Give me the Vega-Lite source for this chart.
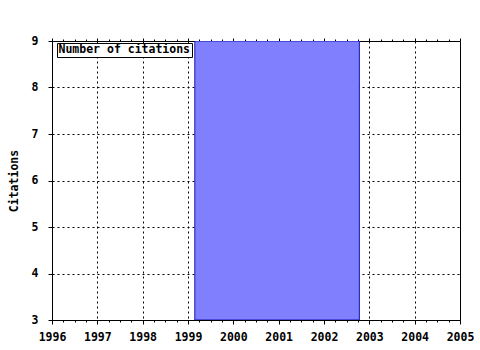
{
  "$schema": "https://vega.github.io/schema/vega-lite/v6.json",
  "width": 408,
  "height": 279,
  "autosize": {"type": "none"},
  "padding": {"left": 52, "top": 41, "right": 20, "bottom": 30},
  "background": "white",
  "config": {
    "view": {"stroke": "black", "strokeWidth": 1},
    "font": "DejaVu Sans Mono",
    "axis": {
      "labelFont": "DejaVu Sans Mono",
      "labelFontWeight": "bold",
      "labelFontSize": 11.5,
      "labelColor": "black",
      "titleFont": "DejaVu Sans Mono",
      "titleFontWeight": "bold",
      "titleFontSize": 11.5,
      "titleColor": "black",
      "domainColor": "black",
      "tickColor": "black",
      "gridColor": "black",
      "gridDash": [2, 3],
      "gridWidth": 1
    }
  },
  "data": {
    "values": [
      {"start": 1999.15, "end": 2002.78, "citations": 9, "series": "Number of citations"}
    ]
  },
  "layer": [
    {
      "mark": {"type": "bar", "clip": true, "stroke": "#1414b4", "strokeWidth": 1, "opacity": 1},
      "encoding": {
        "x": {
          "field": "start",
          "type": "quantitative",
          "scale": {"domain": [1996, 2005], "nice": false, "zero": false},
          "axis": {
            "orient": "bottom",
            "title": null,
            "values": [1996, 1996.25, 1996.5, 1996.75, 1997, 1997.25, 1997.5, 1997.75, 1998, 1998.25, 1998.5, 1998.75, 1999, 1999.25, 1999.5, 1999.75, 2000, 2000.25, 2000.5, 2000.75, 2001, 2001.25, 2001.5, 2001.75, 2002, 2002.25, 2002.5, 2002.75, 2003, 2003.25, 2003.5, 2003.75, 2004, 2004.25, 2004.5, 2004.75, 2005],
            "labelExpr": "datum.value % 1 === 0 ? format(datum.value, 'd') : ''",
            "labelFlush": false,
            "labelOverlap": false,
            "labelPadding": 7,
            "tickSize": {"condition": {"test": "datum.value % 1 === 0", "value": 4}, "value": 2},
            "gridOpacity": {"condition": {"test": "datum.value % 1 === 0 && datum.value > 1996 && datum.value < 2005", "value": 1}, "value": 0}
          }
        },
        "x2": {"field": "end"},
        "y": {
          "field": "citations",
          "type": "quantitative",
          "scale": {"domain": [3, 9], "nice": false, "zero": false},
          "axis": {
            "title": "Citations",
            "values": [3, 4, 5, 6, 7, 8, 9],
            "tickSize": 4,
            "labelPadding": 10,
            "titlePadding": 12,
            "gridOpacity": {"condition": {"test": "datum.value > 3 && datum.value < 9", "value": 1}, "value": 0}
          }
        },
        "y2": {"datum": 3},
        "color": {
          "field": "series",
          "type": "nominal",
          "scale": {"range": ["#8080ff"]},
          "legend": {
            "title": null,
            "orient": "none",
            "legendX": 5,
            "legendY": 2,
            "fillColor": "white",
            "strokeColor": "black",
            "padding": 1,
            "symbolSize": 0,
            "symbolStrokeWidth": 0,
            "symbolOpacity": 0,
            "labelOffset": -11,
            "labelFont": "DejaVu Sans Mono",
            "labelFontWeight": "bold",
            "labelFontSize": 11.5,
            "labelColor": "black",
            "labelLimit": 300
          }
        }
      }
    },
    {
      "mark": {"type": "bar", "opacity": 0},
      "encoding": {
        "x": {
          "field": "start",
          "type": "quantitative",
          "scale": {"domain": [1996, 2005], "nice": false, "zero": false},
          "axis": {
            "orient": "top",
            "title": null,
            "labels": false,
            "grid": false,
            "domain": false,
            "values": [1996, 1996.25, 1996.5, 1996.75, 1997, 1997.25, 1997.5, 1997.75, 1998, 1998.25, 1998.5, 1998.75, 1999, 1999.25, 1999.5, 1999.75, 2000, 2000.25, 2000.5, 2000.75, 2001, 2001.25, 2001.5, 2001.75, 2002, 2002.25, 2002.5, 2002.75, 2003, 2003.25, 2003.5, 2003.75, 2004, 2004.25, 2004.5, 2004.75, 2005],
            "tickSize": {"condition": {"test": "datum.value % 1 === 0", "value": 3}, "value": 2}
          }
        },
        "x2": {"field": "end"},
        "y": {"field": "citations", "type": "quantitative"},
        "y2": {"datum": 3}
      }
    }
  ],
  "resolve": {"axis": {"x": "independent"}}
}
